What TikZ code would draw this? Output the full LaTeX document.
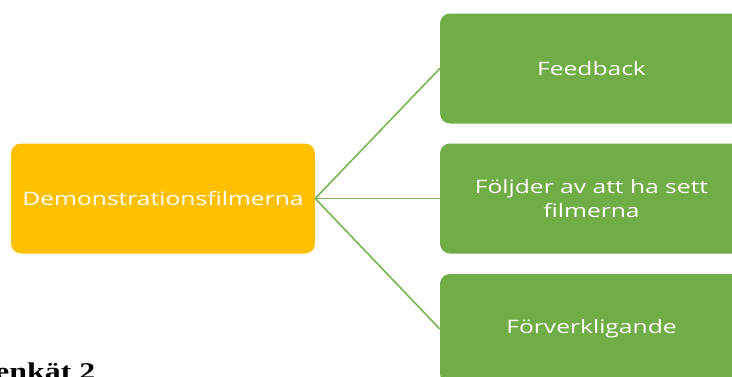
\documentclass[tikz,border=0pt]{standalone}
\usepackage{fontspec}
\usepackage{graphicx}
\newfontfamily\boxfont{Open Sans}
\newfontfamily\captionfont{Liberation Serif}
\newcommand\widetext[1]{\scalebox{1.33}[1]{#1}}
\definecolor{topicorange}{HTML}{FFC000}
\definecolor{leafgreen}{HTML}{70AD47}
\definecolor{linkgreen}{HTML}{7AB655}
\tikzset{
  topic/.style={rectangle, rounded corners=10pt, fill=topicorange, draw=none,
    minimum width=304pt, minimum height=110pt, inner sep=0pt,
    text=white, font=\boxfont\fontsize{18.5}{24}\selectfont, align=center},
  leaf/.style={topic, fill=leafgreen, minimum width=303pt},
  link/.style={draw=linkgreen, line width=1.6pt}
}
\begin{document}
\begin{tikzpicture}[x=1pt, y=-1pt]
  \useasboundingbox (0,0) rectangle (732,376);
  \fill[white] (0,0) rectangle (732,376);
  % root topic and its three branches
  \node[topic] (root) at (163,198.5) {\widetext{Demonstrationsfilmerna}};
  \node[leaf] (feedback) at (591.5,68.5) {\widetext{Feedback}};
  \node[leaf] (effects) at (591.5,198.5) {\widetext{Följder av att ha sett}\\\widetext{filmerna}};
  \node[leaf] (realise) at (591.5,329) {\widetext{Förverkligande}};
  \draw[link] (root.east) -- (feedback.west);
  \draw[link] (root.east) -- (effects.west);
  \draw[link] (root.east) -- (realise.west);
  % heading below, partly outside the page
  \node[anchor=base west, inner sep=0pt, font=\captionfont\bfseries\fontsize{24}{28}\selectfont] (heading) at (-5,379) {\widetext{enkät 2}};
\end{tikzpicture}
\end{document}
